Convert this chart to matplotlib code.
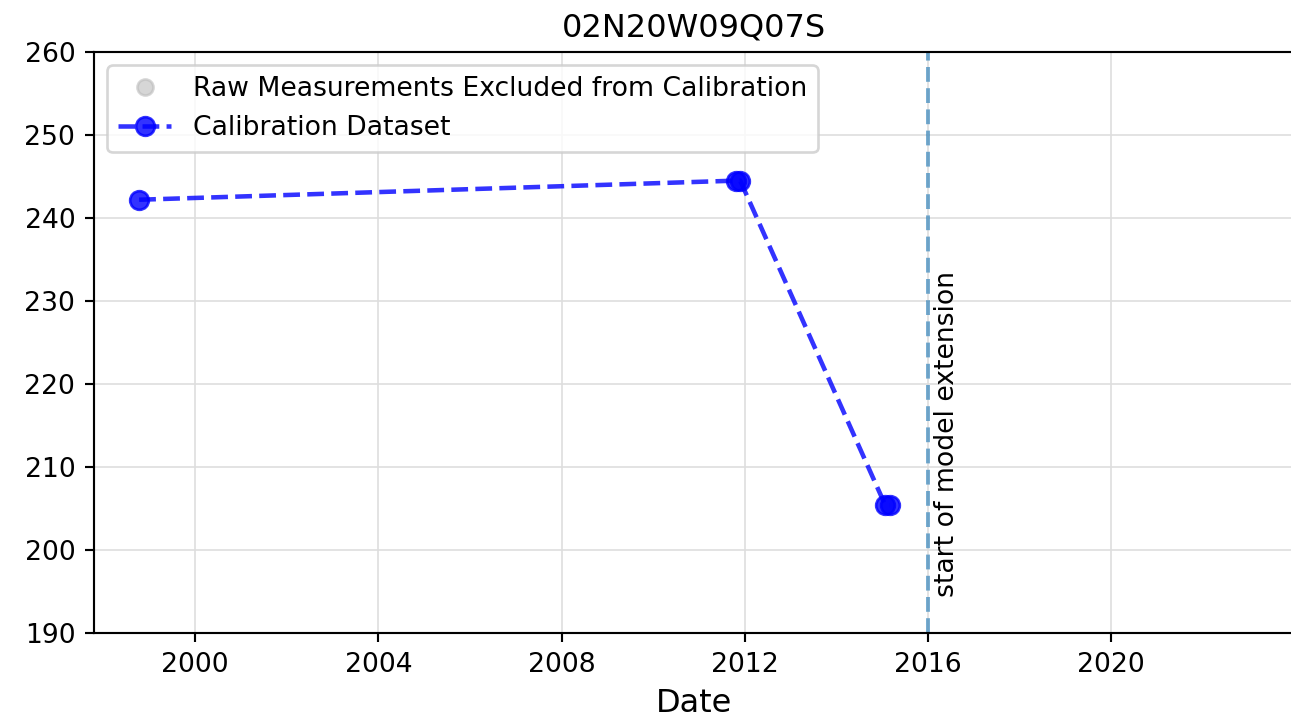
import matplotlib
matplotlib.use("Agg")
import matplotlib.pyplot as plt
import matplotlib.dates as mdates
from datetime import datetime

# calibration data
cal_dates = [datetime(1998, 10, 10), datetime(2011, 10, 20), datetime(2011, 11, 25),
             datetime(2015, 1, 25), datetime(2015, 3, 1)]
cal_values = [242.2, 244.5, 244.5, 205.4, 205.4]

# excluded raw measurements (none for this well)
raw_dates = []
raw_values = []

extension_start = datetime(2016, 1, 1)
well_name = "02N20W09Q07S"

DPI = 192
fig = plt.figure(figsize=(1291 / DPI, 721 / DPI), dpi=DPI)
ax = fig.add_axes([94 / 1291, 1 - 633 / 721, (1294 - 94) / 1291, (633 - 52) / 721])

ax.plot(raw_dates, raw_values, "o", color="#bbbbbb", alpha=0.6,
        label="Raw Measurements Excluded from Calibration")
ax.plot(cal_dates, cal_values, "o--", color="blue", alpha=0.8, markersize=7,
        linewidth=1.7, label="Calibration Dataset")

ax.axvline(extension_start, color="tab:blue", alpha=0.6, linestyle="--", linewidth=1.5)
ax.text(datetime(2016, 2, 20), 194.3, "start of model extension", rotation=90,
        ha="left", va="bottom", fontsize=10)

ax.set_ylim(190, 260)
ax.set_xlim(datetime(1997, 10, 15), datetime(2023, 12, 29))
ax.xaxis.set_major_locator(mdates.YearLocator(4))
ax.xaxis.set_major_formatter(mdates.DateFormatter("%Y"))
ax.grid(True, color="#dddddd", linewidth=0.6)
ax.set_axisbelow(True)
ax.spines['right'].set_visible(False)  # cropped off in the original

ax.set_title(well_name, fontsize=12)
ax.set_xlabel("Date", fontsize=12)
ax.tick_params(labelsize=10)
ax.legend(loc="upper left", fontsize=10)

fig.savefig("out.png", dpi=DPI)
